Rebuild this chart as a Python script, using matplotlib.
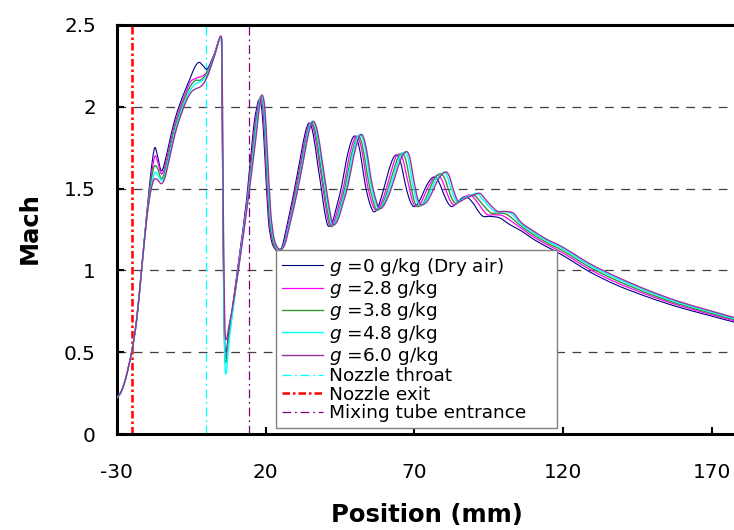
import matplotlib
matplotlib.use("Agg")
import matplotlib.pyplot as plt
from matplotlib.path import Path
from matplotlib.patches import PathPatch

plt.rcParams["axes.unicode_minus"] = False

# Mach number along the ejector axis
# g = 0 g/kg (dry air)
x_g0 = [-30, -28.5, -27, -25, -23.3, -21.6, -19.9, -18.8, -17.8, -17.1, -16.3, -15.1, -14.0, -12.1,
        -10.5, -8.7, -7.0, -5.4, -3.8, -2.4, -1.0, 0.4, 2.5, 4.9, 5.3, 5.7, 6.2, 6.7, 7.5, 9.2, 11.4,
        13.6, 15.9, 16.9, 17.8, 18.8, 19.8, 20.9, 22.0, 23.2, 24.3, 25.6, 27.0, 29.2, 31.6, 33.3,
        34.7, 36.0, 37.4, 38.8, 40.0, 41.1, 42.5, 44.0, 45.6, 47.2, 48.8, 50.0, 51.2, 52.3, 53.4,
        54.8, 56.2, 57.6, 59.4, 61.2, 62.7, 64.0, 65.2, 66.3, 67.4, 68.6, 69.8, 71.2, 72.6, 74.1,
        75.6, 76.9, 78.2, 79.3, 80.2, 81.3, 82.5, 84.2, 85.8, 87.5, 89.7, 91.5, 93.1, 95.5, 98.7,
        102, 106, 110, 114.4, 120, 129, 138, 148, 158, 168, 177.3]
m_g0 = [0.22, 0.26, 0.34, 0.50, 0.70, 1.02, 1.35, 1.55, 1.70, 1.75, 1.70, 1.61, 1.65, 1.80,
        1.92, 2.02, 2.10, 2.17, 2.24, 2.27, 2.25, 2.23, 2.31, 2.42, 2.25, 1.30, 0.62, 0.50, 0.60, 0.82, 1.12,
        1.43, 1.86, 1.98, 2.04, 1.97, 1.68, 1.32, 1.18, 1.13, 1.12, 1.15, 1.26, 1.45, 1.68, 1.84,
        1.90, 1.83, 1.66, 1.49, 1.34, 1.27, 1.30, 1.40, 1.52, 1.68, 1.79, 1.82, 1.77, 1.66, 1.53,
        1.42, 1.36, 1.38, 1.48, 1.60, 1.68, 1.705, 1.67, 1.58, 1.49, 1.42, 1.39, 1.41, 1.46, 1.52,
        1.56, 1.57, 1.54, 1.49, 1.45, 1.41, 1.39, 1.41, 1.44, 1.45, 1.41, 1.36, 1.33, 1.33, 1.32,
        1.28, 1.24, 1.19, 1.145, 1.09, 0.99, 0.91, 0.84, 0.78, 0.73, 0.685]

# g = 2.8 g/kg
x_g28 = [-30, -28.5, -27, -25, -23.3, -21.6, -19.9, -18.7, -17.7, -17.0, -16.2, -15.0, -13.9, -12.0,
         -10.4, -8.6, -6.9, -5.3, -3.7, -2.3, -0.9, 0.6, 2.6, 4.9, 5.3, 5.7, 6.2, 6.7, 7.6, 9.3, 11.5,
         13.7, 16.1, 17.2, 18.1, 19.1, 20.0, 21.1, 22.2, 23.4, 24.5, 25.9, 27.3, 29.5, 32.0, 33.7,
         35.1, 36.4, 37.9, 39.3, 40.5, 41.6, 43.0, 44.6, 46.3, 47.9, 49.5, 50.7, 51.9, 53.0, 54.0,
         55.4, 56.8, 58.3, 60.2, 62.1, 63.7, 65.0, 66.1, 67.2, 68.3, 69.4, 70.6, 72.1, 73.6, 75.2,
         76.7, 78.1, 79.3, 80.3, 81.2, 82.2, 83.3, 85.1, 87.0, 88.9, 91.0, 92.9, 94.6, 97.0, 100.1,
         106, 110, 114.4, 120, 129, 138, 148, 158, 168, 177.3]
m_g28 = [0.22, 0.26, 0.34, 0.50, 0.70, 1.02, 1.34, 1.53, 1.66, 1.70, 1.66, 1.59, 1.63, 1.78,
         1.90, 2.00, 2.08, 2.15, 2.17, 2.18, 2.19, 2.22, 2.31, 2.42, 2.25, 1.30, 0.58, 0.47, 0.59, 0.82, 1.12,
         1.42, 1.84, 1.98, 2.05, 1.98, 1.69, 1.33, 1.19, 1.13, 1.12, 1.15, 1.26, 1.45, 1.68, 1.84,
         1.90, 1.84, 1.67, 1.50, 1.35, 1.27, 1.30, 1.40, 1.52, 1.68, 1.79, 1.82, 1.77, 1.66, 1.54,
         1.43, 1.37, 1.39, 1.48, 1.60, 1.69, 1.71, 1.68, 1.59, 1.50, 1.42, 1.39, 1.41, 1.47, 1.53,
         1.57, 1.58, 1.55, 1.50, 1.46, 1.42, 1.40, 1.42, 1.45, 1.46, 1.42, 1.37, 1.34, 1.34, 1.33,
         1.255, 1.205, 1.159, 1.105, 1.005, 0.925, 0.853, 0.791, 0.739, 0.693]

# g = 3.8 g/kg
x_g38 = [-30, -28.5, -27, -25, -23.3, -21.6, -19.9, -18.7, -17.7, -17.0, -16.2, -15.0, -13.8, -11.8,
         -10.2, -8.4, -6.7, -5.1, -3.5, -2.2, -0.7, 0.7, 2.8, 4.9, 5.3, 5.7, 6.2, 6.7, 7.6, 9.4, 11.6,
         13.8, 16.3, 17.4, 18.3, 19.3, 20.2, 21.3, 22.4, 23.6, 24.7, 26.1, 27.6, 29.8, 32.3, 34.0,
         35.4, 36.8, 38.2, 39.6, 40.9, 42.0, 43.5, 45.1, 46.8, 48.5, 50.1, 51.3, 52.4, 53.5, 54.6,
         56.0, 57.3, 58.8, 60.8, 62.8, 64.5, 65.9, 67.0, 68.0, 69.0, 70.0, 71.2, 72.9, 74.5, 76.1,
         77.6, 79.0, 80.2, 81.1, 81.9, 82.8, 83.9, 85.9, 88.0, 90.0, 92.1, 94.0, 95.8, 98.3, 101.2,
         106, 110, 114.4, 120, 129, 138, 148, 158, 168, 177.3]
m_g38 = [0.22, 0.26, 0.34, 0.50, 0.70, 1.01, 1.33, 1.51, 1.62, 1.64, 1.62, 1.56, 1.61, 1.77,
         1.89, 1.99, 2.07, 2.13, 2.16, 2.16, 2.18, 2.22, 2.31, 2.42, 2.25, 1.30, 0.55, 0.44, 0.58, 0.82, 1.11,
         1.41, 1.83, 1.98, 2.06, 1.99, 1.70, 1.34, 1.19, 1.13, 1.12, 1.15, 1.26, 1.45, 1.68, 1.84,
         1.90, 1.84, 1.67, 1.50, 1.35, 1.27, 1.30, 1.40, 1.52, 1.68, 1.79, 1.82, 1.77, 1.66, 1.54,
         1.43, 1.37, 1.39, 1.48, 1.60, 1.69, 1.715, 1.68, 1.59, 1.50, 1.42, 1.39, 1.41, 1.47, 1.54,
         1.58, 1.59, 1.56, 1.51, 1.47, 1.43, 1.41, 1.43, 1.45, 1.46, 1.42, 1.38, 1.35, 1.35, 1.34,
         1.268, 1.218, 1.17, 1.118, 1.018, 0.938, 0.863, 0.799, 0.747, 0.70]

# g = 4.8 g/kg
x_g48 = [-30, -28.5, -27, -25, -23.3, -21.6, -19.9, -18.6, -17.6, -16.9, -16.1, -14.9, -13.7, -11.7,
         -10.1, -8.3, -6.6, -5.0, -3.4, -2.1, -0.6, 0.9, 2.9, 5.0, 5.4, 5.8, 6.3, 6.8, 7.7, 9.4, 11.6,
         13.8, 16.5, 17.6, 18.5, 19.5, 20.4, 21.5, 22.6, 23.8, 24.9, 26.3, 27.8, 30.1, 32.6, 34.3,
         35.7, 37.1, 38.6, 40.0, 41.3, 42.4, 43.9, 45.6, 47.4, 49.0, 50.6, 51.8, 53.0, 54.1, 55.1,
         56.5, 57.8, 59.4, 61.5, 63.5, 65.3, 66.7, 67.8, 68.7, 69.6, 70.7, 71.9, 73.6, 75.3, 77.1,
         78.6, 80.0, 81.1, 81.9, 82.7, 83.5, 84.5, 86.6, 89.0, 91.1, 93.1, 95.1, 97.0, 99.5, 102.3,
         106, 110, 114.4, 120, 129, 138, 148, 158, 168, 177.3]
m_g48 = [0.22, 0.26, 0.34, 0.50, 0.70, 1.01, 1.32, 1.49, 1.58, 1.60, 1.58, 1.55, 1.59, 1.75,
         1.87, 1.97, 2.05, 2.11, 2.14, 2.15, 2.17, 2.21, 2.32, 2.42, 2.25, 1.25, 0.48, 0.38, 0.56, 0.81, 1.11,
         1.40, 1.81, 1.98, 2.06, 1.99, 1.71, 1.35, 1.20, 1.14, 1.13, 1.16, 1.27, 1.45, 1.68, 1.85,
         1.91, 1.85, 1.68, 1.51, 1.36, 1.28, 1.31, 1.41, 1.53, 1.69, 1.80, 1.83, 1.78, 1.67, 1.55,
         1.44, 1.38, 1.40, 1.49, 1.61, 1.70, 1.72, 1.69, 1.60, 1.51, 1.43, 1.40, 1.42, 1.48, 1.55,
         1.58, 1.60, 1.57, 1.52, 1.48, 1.44, 1.42, 1.44, 1.46, 1.47, 1.43, 1.39, 1.36, 1.36, 1.35,
         1.28, 1.23, 1.181, 1.13, 1.03, 0.95, 0.874, 0.808, 0.755, 0.707]

# g = 6.0 g/kg
x_g60 = [-30, -28.5, -27, -25, -23.3, -21.6, -19.9, -18.6, -17.6, -16.9, -16.1, -14.9, -13.6, -11.6,
         -10.0, -8.2, -6.5, -4.9, -3.3, -2.0, -0.5, 1.0, 3.0, 5.0, 5.4, 5.8, 6.3, 6.8, 7.7, 9.5, 11.7,
         13.9, 16.7, 17.8, 18.7, 19.7, 20.6, 21.7, 22.8, 24.0, 25.1, 26.5, 28.0, 30.3, 32.8, 34.6,
         36.0, 37.4, 38.9, 40.3, 41.6, 42.7, 44.3, 46.0, 47.8, 49.5, 51.1, 52.3, 53.4, 54.5, 55.5,
         56.9, 58.2, 59.8, 62.0, 64.1, 65.9, 67.4, 68.4, 69.3, 70.2, 71.2, 72.4, 74.2, 76.0, 77.8,
         79.4, 80.8, 81.8, 82.6, 83.3, 84.1, 85.0, 87.2, 89.8, 92.0, 94.0, 96.0, 98.0, 100.5, 103.2,
         106, 110, 114.4, 120, 129, 138, 148, 158, 168, 177.3]
m_g60 = [0.22, 0.26, 0.34, 0.50, 0.70, 1.01, 1.32, 1.48, 1.55, 1.56, 1.55, 1.53, 1.58, 1.74,
         1.86, 1.96, 2.04, 2.09, 2.11, 2.12, 2.15, 2.21, 2.32, 2.43, 2.25, 1.35, 0.68, 0.58, 0.66, 0.84, 1.11,
         1.40, 1.80, 1.98, 2.07, 2.00, 1.72, 1.36, 1.20, 1.14, 1.13, 1.16, 1.27, 1.45, 1.68, 1.85,
         1.91, 1.85, 1.68, 1.51, 1.36, 1.28, 1.31, 1.41, 1.53, 1.69, 1.80, 1.83, 1.78, 1.67, 1.55,
         1.44, 1.38, 1.40, 1.49, 1.61, 1.70, 1.725, 1.69, 1.60, 1.51, 1.43, 1.40, 1.42, 1.48, 1.55,
         1.59, 1.60, 1.57, 1.52, 1.48, 1.44, 1.42, 1.44, 1.46, 1.47, 1.43, 1.39, 1.36, 1.36, 1.35,
         1.29, 1.24, 1.19, 1.14, 1.04, 0.96, 0.882, 0.815, 0.761, 0.713]

series = [
    (x_g0, m_g0, r"$g$ =0 g/kg (Dry air)", "#000080", 0.8),
    (x_g28, m_g28, r"$g$ =2.8 g/kg", "#FF00FF", 0.9),
    (x_g38, m_g38, r"$g$ =3.8 g/kg", "#339933", 1.0),
    (x_g48, m_g48, r"$g$ =4.8 g/kg", "#00FFFF", 1.0),
    (x_g60, m_g60, r"$g$ =6.0 g/kg", "#993399", 1.0),
]

# geometry markers (mm)
throat_pos = 0.0
exit_pos = -25.0
mixing_pos = 14.5

x_ticks = [-30, 20, 70, 120, 170]
y_ticks = [0, 0.5, 1, 1.5, 2, 2.5]
y_tick_labels = ["0", "0.5", "1", "1.5", "2", "2.5"]


def smooth_path(xs, ys):
    # smoothed line through the points (Catmull-Rom drawn as cubic Bezier), like a spreadsheet "smoothed line"
    pts = list(zip(xs, ys))
    verts = [pts[0]]
    codes = [Path.MOVETO]
    n = len(pts)
    for i in range(n - 1):
        p0 = pts[max(i - 1, 0)]
        p1 = pts[i]
        p2 = pts[i + 1]
        p3 = pts[min(i + 2, n - 1)]
        c1 = (p1[0] + (p2[0] - p0[0]) / 6.0, p1[1] + (p2[1] - p0[1]) / 6.0)
        c2 = (p2[0] - (p3[0] - p1[0]) / 6.0, p2[1] - (p3[1] - p1[1]) / 6.0)
        verts += [c1, c2, p2]
        codes += [Path.CURVE4, Path.CURVE4, Path.CURVE4]
    return Path(verts, codes)


fig = plt.figure(figsize=(7.34, 5.30), dpi=100)
ax = fig.add_axes([0.159, 0.1806, 0.841, 0.7728])

for xs, ms, lab, col, lw in series:
    ax.add_patch(PathPatch(smooth_path(xs, ms), fill=False, edgecolor=col, lw=lw, zorder=3))
    ax.plot([], [], color=col, lw=lw, label=lab)

ax.axvline(throat_pos, color="#00FFFF", lw=0.9, ls=(0, (7, 3, 1.5, 3)), label="Nozzle throat", zorder=2)
ax.axvline(exit_pos, color="#FF0000", lw=1.8, ls=(0, (3, 1.2, 1, 1.2)), label="Nozzle exit", zorder=2)
ax.axvline(mixing_pos, color="#800080", lw=0.9, ls=(0, (7, 3, 1.5, 3)), label="Mixing tube entrance", zorder=2)

ax.set_xlim(-30, 177.3)
ax.set_ylim(0, 2.5)
ax.set_xticks(x_ticks)
ax.set_yticks(y_ticks)
ax.set_yticklabels(y_tick_labels)
ax.yaxis.grid(True, color="#404040", lw=0.9, ls=(0, (7, 6)))

for side in ["left", "bottom", "top"]:
    ax.spines[side].set_linewidth(2.2)
ax.spines["right"].set_visible(False)

ax.tick_params(direction="in", length=5, width=1.5, labelsize=14.4)
ax.tick_params(axis="x", pad=21)
ax.tick_params(axis="y", pad=15)

ax.set_xlabel("Position (mm)", fontsize=17.5, fontweight="bold")
ax.set_ylabel("Mach", fontsize=17.5, fontweight="bold")
ax.xaxis.set_label_coords(0.503, -0.168)
ax.yaxis.set_label_coords(-0.122, 0.504)

leg = ax.legend(loc="lower left", bbox_to_anchor=(0.258, 0.016, 0.456, 0.44), mode="expand",
                fontsize=13.3, handlelength=2.25, handletextpad=0.3, labelspacing=0.02,
                borderpad=0.3, borderaxespad=0, fancybox=False, framealpha=1, edgecolor="#808080")
leg.get_frame().set_linewidth(1.0)

plt.savefig("out.png", dpi=100)
